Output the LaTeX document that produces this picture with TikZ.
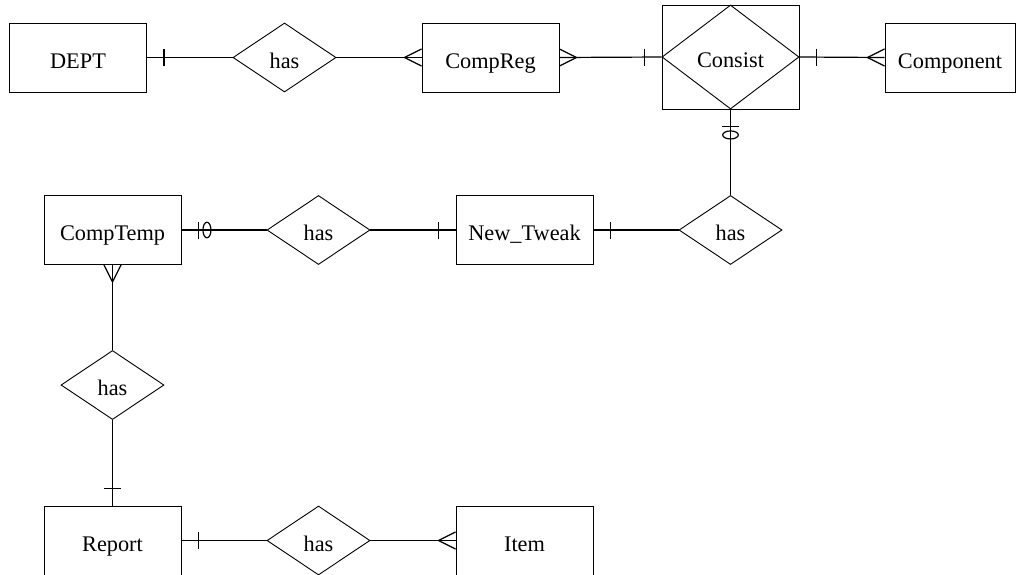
\documentclass[tikz,border=0pt]{standalone}
\usepackage{fontspec}
\setmainfont{Liberation Serif}
\usetikzlibrary{shapes.geometric}
\begin{document}
\begin{tikzpicture}[x=1pt,y=-1pt,
  every node/.style={font=\fontsize{22.3}{26}\selectfont, inner sep=0pt, text height=21pt, text depth=0pt},
  entity/.style={draw, line width=0.9pt, rectangle, minimum width=137pt, minimum height=69pt},
  rel/.style={draw, line width=0.9pt, diamond, minimum width=103pt, minimum height=69pt},
  conn/.style={line width=1.2pt},
  onemark/.pic={\draw[conn] (17,-8.5) -- (17,8.5);},
  crowmark/.pic={\draw[conn] (0,-8.5) -- (17,0) -- (0,8.5);},
  zeroone/.pic={\draw[conn] (17,-8.5) -- (17,8.5); \draw[conn] (25.5,0) ellipse [x radius=4, y radius=7.8];}
]
\useasboundingbox (0,0) rectangle (1016,574);
% row 1
\node[entity] (dept) at (78,57.5) {DEPT};
\node[rel] (has1) at (284.5,57.5) {has};
\node[entity] (compreg) at (490.5,57.5) {CompReg};
\node[draw, line width=0.9pt, rectangle, minimum width=137pt, minimum height=104pt] (consistbox) at (730.5,57) {};
\node[draw, line width=0.9pt, diamond, minimum width=137pt, minimum height=104pt] (consist) at (730.5,57) {Consist};
\node[entity, minimum width=130pt] (component) at (950,57.5) {Component};
% row 2
\node[entity] (comptemp) at (112.5,230) {CompTemp};
\node[rel] (has2) at (318.5,230) {has};
\node[entity] (newtweak) at (524.5,230) {New\_Tweak};
\node[rel] (has4) at (730.5,230) {has};
% row 3
\node[rel] (has3) at (112.5,385) {has};
% row 4
\node[entity] (report) at (112.5,540.5) {Report};
\node[rel] (has5) at (318.5,540.5) {has};
\node[entity] (item) at (524.5,540.5) {Item};
% connectors
\draw[conn] (dept.east) -- (has1.west);
\pic at (dept.east) {onemark};
\draw[conn] (has1.east) -- (compreg.west);
\pic[rotate=180] at (compreg.west) {crowmark};
\draw[conn] (compreg.east) -- (consist.west);
\pic at (compreg.east) {crowmark};
\pic[rotate=180] at (consist.west) {onemark};
\draw[conn] (consist.east) -- (component.west);
\pic at (consist.east) {onemark};
\pic[rotate=180] at (component.west) {crowmark};
\draw[conn] (consist.south) -- (has4.north);
\pic[rotate=-90] at (consist.south) {zeroone};
\draw[conn] (newtweak.east) -- (has4.west);
\pic at (newtweak.east) {onemark};
\draw[conn] (has2.east) -- (newtweak.west);
\pic[rotate=180] at (newtweak.west) {onemark};
\draw[conn] (comptemp.east) -- (has2.west);
\pic at (comptemp.east) {zeroone};
\draw[conn] (comptemp.south) -- (has3.north);
\pic[rotate=-90] at (comptemp.south) {crowmark};
\draw[conn] (has3.south) -- (report.north);
\pic[rotate=90] at (report.north) {onemark};
\draw[conn] (report.east) -- (has5.west);
\pic at (report.east) {onemark};
\draw[conn] (has5.east) -- (item.west);
\pic[rotate=180] at (item.west) {crowmark};
\end{tikzpicture}
\end{document}
